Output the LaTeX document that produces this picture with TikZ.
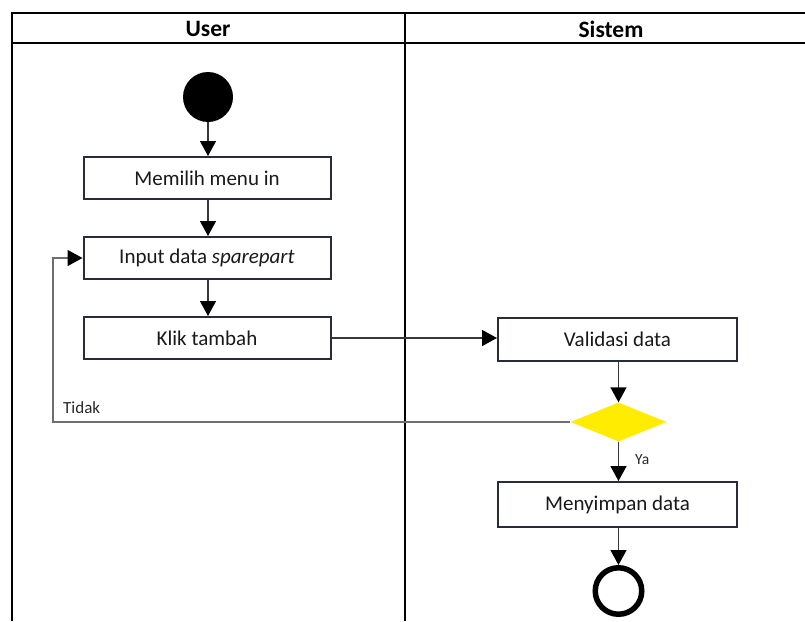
\documentclass[tikz,border=0pt]{standalone}
\usepackage{fontspec}
\setmainfont{Carlito}
\usetikzlibrary{shapes.geometric,arrows.meta}
\definecolor{boxline}{RGB}{40,44,58}
\definecolor{flowline}{RGB}{55,55,55}
\definecolor{loopline}{RGB}{110,110,110}
\definecolor{labeltext}{RGB}{40,40,40}
\definecolor{decision}{RGB}{255,236,0}
\tikzset{
  lane/.style={line width=2.4pt, black},
  act/.style={draw=boxline, line width=2pt, fill=white, minimum width=247pt,
    minimum height=42pt, inner sep=0pt, font=\fontsize{21}{24}\selectfont, text=black!90},
  flow/.style={draw=flowline, line width=1.4pt, -{Triangle[length=15pt,width=16pt,color=black]}},
  guard/.style={font=\fontsize{17}{19}\selectfont, text=labeltext, inner sep=0pt},
  head/.style={font=\bfseries\fontsize{23.5}{26}\selectfont, inner sep=0pt}
}
\begin{document}
\begin{tikzpicture}[x=1pt,y=-1pt]
\useasboundingbox (0,0) rectangle (805,621);
\fill[white] (0,0) rectangle (805,621);

% swimlanes
\draw[lane] (12,621) -- (12,13) -- (805,13);
\draw[lane] (12,43) -- (805,43);
\draw[lane] (405,13) -- (405,621);
\node[head] (hUser) at (208,29) {User};
\node[head] (hSys) at (611,29) {Sistem};

% user lane
\node[circle, fill=black, minimum size=50pt, inner sep=0pt] (start) at (208,97) {};
\node[act] (a1) at (207,178) {Memilih menu in};
\node[act] (a2) at (207,258) {Input data \textit{sparepart}};
\node[act] (a3) at (207,338) {Klik tambah};

% system lane
\node[act, minimum width=239pt, minimum height=43pt] (v) at (617.5,339) {Validasi data};
\node[diamond, fill=decision, minimum width=96pt, minimum height=39pt, inner sep=0pt] (d) at (618.5,422) {};
\node[act, minimum width=239pt, minimum height=45pt] (m) at (617.5,504.5) {Menyimpan data};
\node[circle, draw=black, line width=5.5pt, fill=white, minimum size=46.5pt, inner sep=0pt] (end) at (618.5,591) {};

\coordinate (back) at (53,422);

% control flow
\draw[flow] (start.south) -- (start.south |- a1.north);
\draw[flow] (a1.south -| start) -- (a2.north -| start);
\draw[flow] (a2.south -| start) -- (a3.north -| start);
\draw[flow] (a3.east) -- (a3.east -| v.west);
\draw[flow] (v.south -| d) -- (d.north);
\draw[flow] (d.south) -- (m.north -| d) node[guard, font=\fontsize{15.5}{17}\selectfont, pos=0.45, right=16pt] (ya) {Ya};
\draw[flow] (m.south -| d) -- (end.north);
\draw[flow, draw=loopline] (d.west) -- (back) |- (a2.west);
\node[guard, anchor=west] (tidak) at (63,408) {Tidak};
\end{tikzpicture}
\end{document}
